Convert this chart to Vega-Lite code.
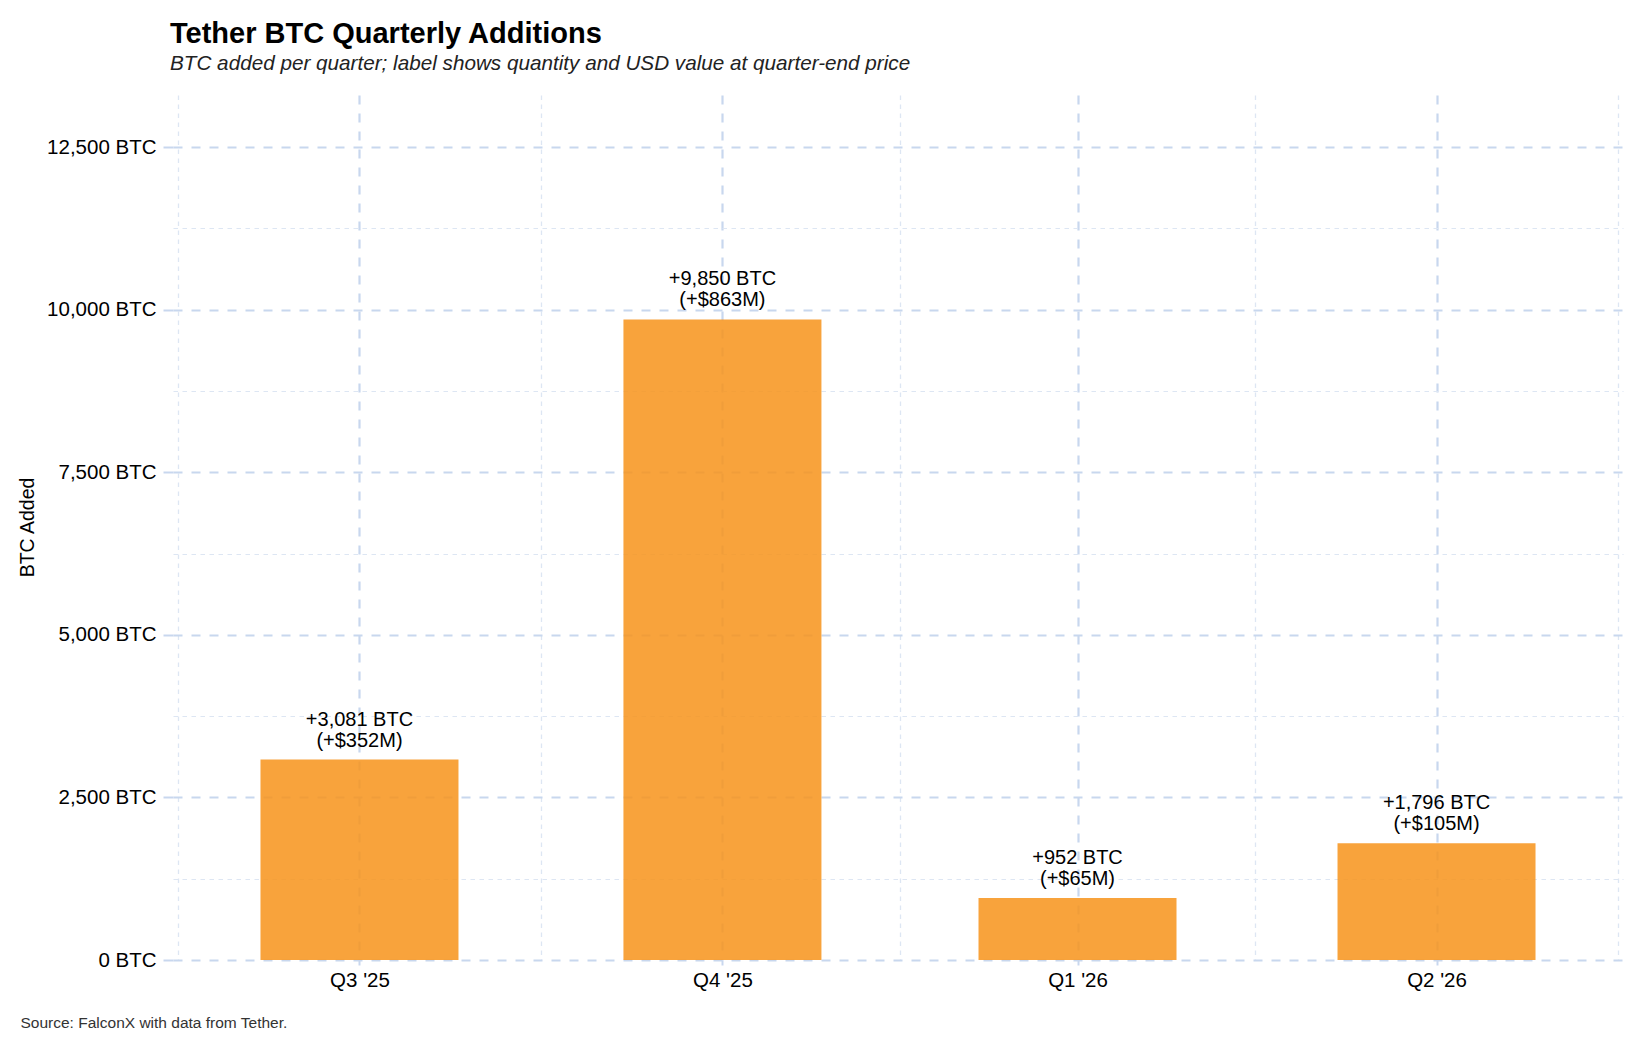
{
  "$schema": "https://vega.github.io/schema/vega-lite/v6.json",
  "width": 1450,
  "height": 865,
  "autosize": {"type": "none"},
  "padding": {"left": 173, "top": 95, "right": 27, "bottom": 90},
  "background": "white",
  "config": {
    "view": {"stroke": null},
    "font": "Liberation Sans",
    "title": {"font": "Liberation Sans", "subtitleFont": "Liberation Sans"}
  },
  "title": {
    "text": "Tether BTC Quarterly Additions",
    "subtitle": "BTC added per quarter; label shows quantity and USD value at quarter-end price",
    "anchor": "start",
    "frame": "group",
    "dx": -3,
    "offset": 21,
    "fontSize": 29,
    "fontWeight": "bold",
    "color": "#000000",
    "subtitleFontSize": 20.7,
    "subtitleFontStyle": "italic",
    "subtitleColor": "#222222",
    "subtitlePadding": 5
  },
  "data": {
    "values": [
      {"quarter": "2025-09-30", "btc": 3081, "label": ["+3,081 BTC", "(+$352M)"]},
      {"quarter": "2025-12-31", "btc": 9850, "label": ["+9,850 BTC", "(+$863M)"]},
      {"quarter": "2026-03-31", "btc": 952, "label": ["+952 BTC", "(+$65M)"]},
      {"quarter": "2026-06-30", "btc": 1796, "label": ["+1,796 BTC", "(+$105M)"]}
    ]
  },
  "encoding": {
    "x": {
      "field": "quarter",
      "type": "temporal",
      "scale": {
        "type": "utc",
        "domain": [
          {"year": 2025, "month": 8, "date": 15, "utc": true},
          {"year": 2026, "month": 8, "date": 15, "utc": true}
        ]
      },
      "axis": {
        "values": [
          {"year": 2025, "month": 8, "date": 15, "utc": true},
          {"year": 2025, "month": 9, "date": 30, "utc": true},
          {"year": 2025, "month": 11, "date": 15, "utc": true},
          {"year": 2025, "month": 12, "date": 31, "utc": true},
          {"year": 2026, "month": 2, "date": 14, "utc": true},
          {"year": 2026, "month": 3, "date": 31, "utc": true},
          {"year": 2026, "month": 5, "date": 15, "utc": true},
          {"year": 2026, "month": 6, "date": 30, "utc": true},
          {"year": 2026, "month": 8, "date": 15, "utc": true}
        ],
        "labelExpr": "utcdate(datum.value) >= 28 ? 'Q' + (floor(utcmonth(datum.value) / 3) + 1) + \" '\" + utcFormat(datum.value, '%y') : ''",
        "labelFontSize": 20.5,
        "labelColor": "#000000",
        "labelPadding": 5,
        "labelFlush": false,
        "labelOverlap": false,
        "domain": false,
        "tickSize": 5,
        "tickColor": {"condition": {"test": "utcdate(datum.value) >= 28", "value": "#c8d7ee"}, "value": "transparent"},
        "tickWidth": 2,
        "grid": true,
        "gridColor": {"condition": {"test": "utcdate(datum.value) >= 28", "value": "#c8d7ee"}, "value": "#dde6f3"},
        "gridDash": {"condition": {"test": "utcdate(datum.value) >= 28", "value": [9, 9]}, "value": [4.5, 4.5]},
        "gridWidth": {"condition": {"test": "utcdate(datum.value) >= 28", "value": 2.2}, "value": 1.3},
        "title": "Source: FalconX with data from Tether.",
        "titleFontSize": 15.5,
        "titleFontWeight": "normal",
        "titleColor": "#333333",
        "titleAlign": "left",
        "titleBaseline": "alphabetic",
        "titleAnchor": "start",
        "titleX": -153,
        "titleY": 67
      }
    },
    "y": {
      "field": "btc",
      "type": "quantitative",
      "scale": {"domain": [0, 13300], "nice": false, "zero": true},
      "axis": {
        "values": [0, 1250, 2500, 3750, 5000, 6250, 7500, 8750, 10000, 11250, 12500],
        "labelExpr": "datum.value % 2500 === 0 ? format(datum.value, ',') + ' BTC' : ''",
        "labelFontSize": 20.5,
        "labelColor": "#000000",
        "labelPadding": 7,
        "labelOverlap": false,
        "domain": false,
        "tickSize": 10,
        "tickColor": {"condition": {"test": "datum.value % 2500 === 0", "value": "#c8d7ee"}, "value": "transparent"},
        "tickWidth": 2,
        "grid": true,
        "gridColor": {"condition": {"test": "datum.value % 2500 === 0", "value": "#c8d7ee"}, "value": "#dde6f3"},
        "gridDash": {"condition": {"test": "datum.value % 2500 === 0", "value": [9, 9]}, "value": [4.5, 4.5]},
        "gridWidth": {"condition": {"test": "datum.value % 2500 === 0", "value": 2.2}, "value": 1.2},
        "title": "BTC Added",
        "titleFontSize": 19.5,
        "titleFontWeight": "normal",
        "titleColor": "#000000",
        "titleBaseline": "middle",
        "titleX": -146,
        "titleY": 432
      }
    }
  },
  "layer": [
    {
      "mark": {"type": "bar", "color": "#F7931A", "opacity": 0.85, "size": 198}
    },
    {
      "mark": {"type": "text", "fontSize": 20, "color": "#000000", "baseline": "alphabetic", "lineHeight": 21, "dy": -34},
      "encoding": {
        "text": {"field": "label", "type": "nominal"}
      }
    }
  ]
}
